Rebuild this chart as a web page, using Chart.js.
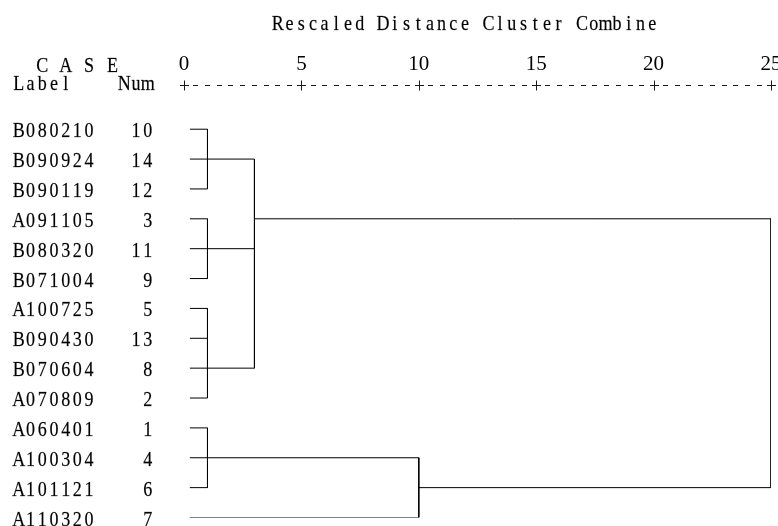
<!DOCTYPE html>
<html>
<head>
<meta charset="utf-8">
<script src="https://cdn.jsdelivr.net/npm/chart.js@4/dist/chart.umd.min.js"></script>
<style>
  html, body { margin: 0; padding: 0; background: #ffffff; }
  #wrap { width: 778px; height: 526px; }
</style>
</head>
<body>
<div id="wrap"><canvas id="c" width="778" height="526"></canvas></div>
<script>
// ---------- data ----------
const titleText = 'Rescaled Distance Cluster Combine';
const caseLabels = ['B080210','B090924','B090119','A091105','B080320','B071004','A100725',
                    'B090430','B070604','A070809','A060401','A100304','A101121','A110320'];
const caseNums   = [10, 14, 12, 3, 11, 9, 5, 13, 8, 2, 1, 4, 6, 7];
const distTicks  = [0, 5, 10, 15, 20, 25];
const leafStart  = 0.25;
// clusters: children are leaf rows (numbers) or earlier clusters ('c' + index)
const clusterChildren = [[0,1,2], [3,4,5], [6,7,8,9], ['c0','c1','c2'], [10,11,12], ['c4',13], ['c3','c5']];
const clusterDist     = [1, 1, 1, 3, 1, 10, 25];
const clusterRow      = [1, 4, 8, 3, 11, 12, null];

// ---------- build line segments from the merge table ----------
function childInfo(ch) {
  if (typeof ch === 'number') return { row: ch, x: leafStart };
  const k = parseInt(ch.slice(1), 10);
  return { row: clusterRow[k], x: clusterDist[k] };
}
const segments = [];
clusterChildren.forEach((kids, k) => {
  const d = clusterDist[k];
  const rows = [];
  kids.forEach(ch => {
    const info = childInfo(ch);
    rows.push(info.row);
    segments.push([{ x: info.x, y: info.row }, { x: d, y: info.row }]);
  });
  segments.push([{ x: d, y: Math.min(...rows) }, { x: d, y: Math.max(...rows) }]);
});

const datasets = segments.map(seg => ({
  data: seg,
  showLine: true,
  borderColor: '#000000',
  borderWidth: 1,
  pointRadius: 0,
  pointHoverRadius: 0,
  tension: 0,
  fill: false
}));

// ---------- fixed-pitch serif text (SimSun-like) ----------
const FONT = '22px "Liberation Serif", "DejaVu Serif", serif';
const CELL = 11.7;
const SX = 0.82;
function drawMono(ctx, text, x, y, align) {
  const n = text.length;
  let x0 = x;
  if (align === 'right') x0 = x - n * CELL;
  else if (align === 'center') x0 = x - n * CELL / 2;
  for (let i = 0; i < n; i++) {
    const ch = text[i];
    if (ch === ' ') continue;
    ctx.save();
    ctx.translate(x0 + (i + 0.5) * CELL, y);
    ctx.scale(SX, 1);
    ctx.textAlign = 'center';
    ctx.textBaseline = 'alphabetic';
    ctx.fillText(ch, 0, 0);
    ctx.strokeText(ch, 0, 0);
    ctx.restore();
  }
}
const dendroText = {
  id: 'dendroText',
  afterDraw(chart) {
    const ctx = chart.ctx;
    const xs = chart.scales.x, ys = chart.scales.y;
    ctx.save();
    ctx.fillStyle = '#000000';
    ctx.strokeStyle = 'rgba(0,0,0,0.55)';
    ctx.lineWidth = 0.35;
    ctx.font = FONT;
    // title
    drawMono(ctx, titleText, 465, 30, 'center');
    // header
    drawMono(ctx, 'C A S E', 36.4, 72, 'left');
    drawMono(ctx, 'Label', 13, 90, 'left');
    drawMono(ctx, 'Num', 153.5, 90, 'right');
    // case labels
    caseLabels.forEach((lab, i) => {
      const py = ys.getPixelForValue(i);
      drawMono(ctx, lab, 13, py + 8, 'left');
      drawMono(ctx, String(caseNums[i]), 153.5, py + 8, 'right');
    });
    // +---------+ axis line
    ctx.strokeStyle = '#1a1a1a';
    ctx.lineWidth = 1;
    const ay = Math.round(chart.chartArea.top) + 0.5;
    const tickPx = xs.ticks.map(t => xs.getPixelForValue(t.value));
    ctx.beginPath();
    for (let j = 0; j < tickPx.length; j++) {
      const px = Math.round(tickPx[j]) + 0.5;
      ctx.moveTo(px, ay - 5); ctx.lineTo(px, ay + 5);
      ctx.moveTo(px - 4.5, ay); ctx.lineTo(px + 4.5, ay);
      if (j < tickPx.length - 1) {
        const step = (tickPx[j + 1] - tickPx[j]) / 10;
        for (let k = 1; k < 10; k++) {
          const cx = tickPx[j] + k * step;
          ctx.moveTo(Math.round(cx - 2.5), ay); ctx.lineTo(Math.round(cx + 2.5), ay);
        }
      }
    }
    ctx.stroke();
    ctx.restore();
  }
};

new Chart(document.getElementById('c'), {
  type: 'scatter',
  data: { datasets },
  options: {
    responsive: false,
    animation: false,
    events: [],
    layout: { padding: { left: 184, right: 7, top: 44, bottom: 8.5 } },
    plugins: { legend: { display: false }, tooltip: { enabled: false }, title: { display: false } },
    scales: {
      x: {
        type: 'linear',
        position: 'top',
        min: 0, max: 25,
        afterBuildTicks: (scale) => { scale.ticks = distTicks.map(v => ({ value: v })); },
        afterFit: (scale) => { scale.paddingLeft = 0; scale.paddingRight = 0; },
        ticks: {
          color: '#000000',
          font: { family: '"Liberation Serif", "DejaVu Serif", serif', size: 21, lineHeight: 1 },
          padding: 10,
          maxRotation: 0,
          autoSkip: false
        },
        grid: { display: false, drawTicks: false },
        border: { display: false }
      },
      y: {
        type: 'linear',
        reverse: true,
        min: -1.48, max: 13,
        display: false
      }
    }
  },
  plugins: [dendroText]
});
</script>
</body>
</html>
